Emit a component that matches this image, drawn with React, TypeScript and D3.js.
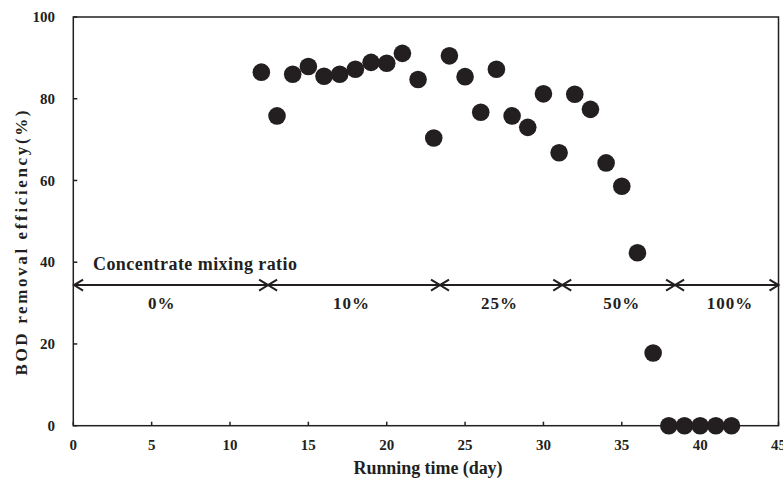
import React from "react";
import * as d3 from "d3";

const days = [12,13,14,15,16,17,18,19,20,21,22,23,24,25,26,27,28,29,30,31,32,33,34,35,36,37,38,39,40,41,42];
const efficiency = [86.5,75.8,86,87.9,85.5,86,87.2,88.9,88.7,91.1,84.7,70.4,90.5,85.4,76.7,87.2,75.8,73,81.2,66.8,81.1,77.4,64.3,58.6,42.3,17.8,0,0,0,0,0];
const xTicks = [0,5,10,15,20,25,30,35,40,45];
const yTicks = [0,20,40,60,80,100];
const phaseBounds = [0.05, 12.43, 23.4, 31.2, 38.4, 45];
const phaseLabels = ["0%", "10%", "25%", "50%", "100%"];
const phaseLabelX = [5.64, 17.76, 27.2, 35, 41.9];
const arrowY = 34.4;
const phaseLabelY = 30.1;

const W = 783, H = 480;
const font = "'Liberation Serif', 'Times New Roman', serif";
const ink = "#231f20";

export default function App() {
  const x = d3.scaleLinear().domain([0, 45]).range([73.3, 778.5]);
  const y = d3.scaleLinear().domain([0, 100]).range([425.7, 17]);
  const ay = y(arrowY);
  const chev = 9, chevH = 5.5;
  const arrowParts: JSX.Element[] = [];
  arrowParts.push(
    <line key="main" x1={x(phaseBounds[0])} x2={x(phaseBounds[phaseBounds.length - 1])} y1={ay} y2={ay} stroke={ink} strokeWidth={2} />
  );
  phaseBounds.forEach((b, i) => {
    const px = x(b);
    if (i > 0) {
      arrowParts.push(
        <path key={"r" + i} d={`M${px - chev},${ay - chevH} L${px},${ay} L${px - chev},${ay + chevH}`} fill="none" stroke={ink} strokeWidth={2} />
      );
    }
    if (i < phaseBounds.length - 1) {
      arrowParts.push(
        <path key={"l" + i} d={`M${px + chev},${ay - chevH} L${px},${ay} L${px + chev},${ay + chevH}`} fill="none" stroke={ink} strokeWidth={2} />
      );
    }
  });

  return (
    <svg width={W} height={H} style={{ position: "absolute", left: 0, top: 0, background: "#fff" }} fontFamily={font}>
      <rect x={x(0)} y={y(100)} width={x(45) - x(0)} height={y(0) - y(100)} fill="none" stroke={ink} strokeWidth={1.5} />
      {yTicks.map((t) => (
        <g key={"y" + t}>
          <line x1={x(0)} x2={x(0) + 4} y1={y(t)} y2={y(t)} stroke={ink} strokeWidth={1.5} />
          <text x={55} y={y(t)} dy="0.35em" textAnchor="end" fontSize={15} fontWeight="bold" fill={ink}>{t}</text>
        </g>
      ))}
      {xTicks.map((t) => (
        <g key={"x" + t}>
          <line x1={x(t)} x2={x(t)} y1={y(0)} y2={y(0) - 4} stroke={ink} strokeWidth={1.5} />
          <text x={x(t)} y={449.5} textAnchor="middle" fontSize={15} fontWeight="bold" fill={ink}>{t}</text>
        </g>
      ))}
      <text x={428} y={474} textAnchor="middle" fontSize={18} fontWeight="bold" fill={ink} textLength={149} lengthAdjust="spacing">Running time (day)</text>
      <text transform={`translate(27,243) rotate(-90)`} textAnchor="middle" fontSize={17} fontWeight="bold" fill={ink} textLength={265} lengthAdjust="spacing">BOD removal efficiency(%)</text>
      <text x={93} y={269.5} fontSize={18} fontWeight="bold" fill={ink} textLength={204} lengthAdjust="spacing">Concentrate mixing ratio</text>
      {arrowParts}
      {phaseLabels.map((l, i) => (
        <text key={l} x={x(phaseLabelX[i])} y={308.5} textAnchor="middle" fontSize={17} fontWeight="bold" fill={ink} letterSpacing={1}>{l}</text>
      ))}
      {days.map((d, i) => (
        <circle key={d} cx={x(d)} cy={y(efficiency[i])} r={8.8} fill={ink} />
      ))}
    </svg>
  );
}
